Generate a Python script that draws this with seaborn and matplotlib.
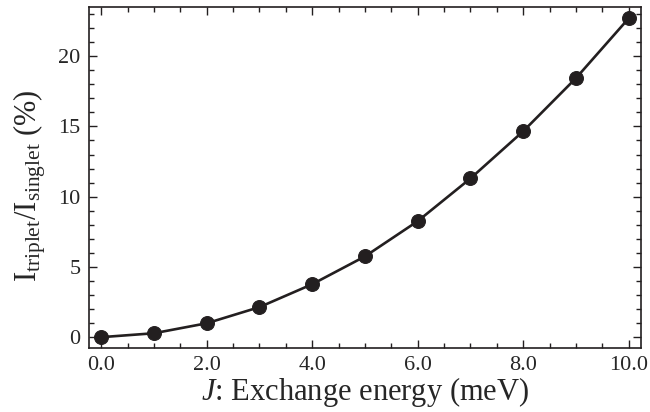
import seaborn as sns
import matplotlib.pyplot as plt
import pandas as pd
from matplotlib.ticker import MultipleLocator

# exchange energy J (meV) and triplet/singlet intensity ratio (%)
exchange_energy = [0, 1, 2, 3, 4, 5, 6, 7, 8, 9, 10]
intensity_ratio = [0.0, 0.28, 0.99, 2.14, 3.77, 5.75, 8.26, 11.3, 14.66, 18.44, 22.7]

df = pd.DataFrame({'J': exchange_energy, 'ratio': intensity_ratio})

sns.set_style('ticks')
plt.rcParams['font.family'] = ['Liberation Serif', 'DejaVu Serif']
plt.rcParams['mathtext.fontset'] = 'custom'
plt.rcParams['mathtext.rm'] = 'Liberation Serif'
plt.rcParams['mathtext.it'] = 'Liberation Serif:italic'

fig, ax = plt.subplots(figsize=(6.5, 4.12), dpi=100)
sns.lineplot(data=df, x='J', y='ratio', color='#231f20', linewidth=1.9,
             marker='o', markersize=10, markeredgecolor='#231f20', ax=ax)

ax.set_xlim(-0.23, 10.23)
ax.set_ylim(-0.78, 23.5)
ax.xaxis.set_major_locator(MultipleLocator(2))
ax.xaxis.set_minor_locator(MultipleLocator(0.5))
ax.yaxis.set_major_locator(MultipleLocator(5))
ax.yaxis.set_minor_locator(MultipleLocator(1))
ax.xaxis.set_major_formatter(plt.FuncFormatter(lambda v, p: f'{v:.1f}'))
ax.tick_params(which='both', direction='in', top=True, right=True, color='#231f20')
ax.tick_params(which='major', length=6, width=1, labelsize=16, pad=6)
ax.tick_params(which='minor', length=3.5, width=1)
for s in ax.spines.values():
    s.set_linewidth(1.2)
    s.set_color('#231f20')

ax.set_xlabel('$J$: Exchange energy (meV)', fontsize=22, labelpad=0)
ax.set_ylabel(r'I$_{\mathrm{triplet}}$/I$_{\mathrm{singlet}}$ (%)', fontsize=22)
ax.yaxis.set_label_coords(-0.075, 0.475)

fig.subplots_adjust(left=0.137, right=0.986, top=0.983, bottom=0.155)
fig.savefig('out.png', dpi=100)
